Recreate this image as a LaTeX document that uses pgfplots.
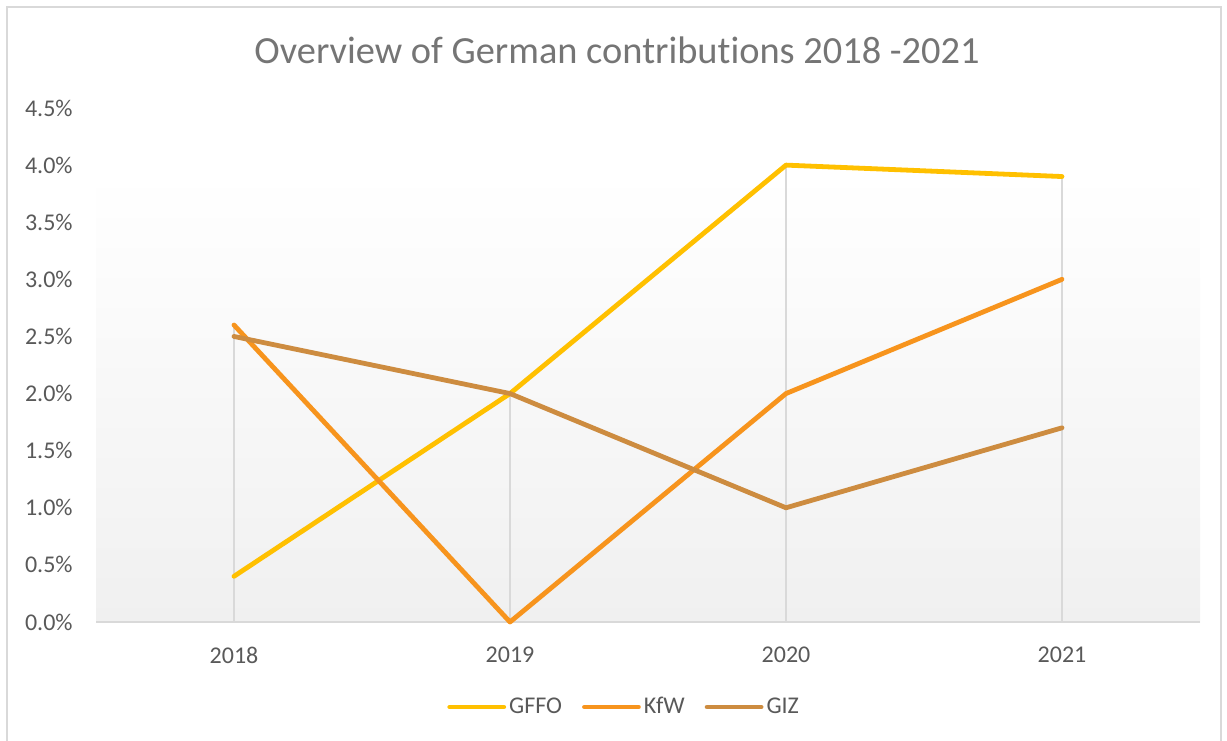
\documentclass[border=0pt]{standalone}
\usepackage{pgfplots}
\pgfplotsset{compat=1.18}
\usepackage{fontspec}
\setmainfont{Carlito}[Ligatures=NoCommon]
\definecolor{cGFFO}{HTML}{FFC000}
\definecolor{cKfW}{HTML}{F7941D}
\definecolor{cGIZ}{HTML}{CD8C40}
\definecolor{borderG}{HTML}{D9D9D9}
\definecolor{titleG}{HTML}{757575}
\definecolor{tickG}{HTML}{595959}
\definecolor{bgG}{HTML}{F0F0F0}
\begin{document}
\begin{tikzpicture}
\useasboundingbox (0,0) rectangle (613.5pt,370pt);
\draw[color=borderG, line width=1pt] (3.5pt,-10pt) rectangle (610.5pt,366.5pt);
\node[text=titleG, font=\fontsize{19.2}{23}\selectfont, anchor=base, inner sep=0pt] at (308.5pt,338pt) {Overview of German contributions 2018 -2021};
\begin{axis}[
  at={(48pt,59pt)}, anchor=south west,
  width=552pt, height=257pt, scale only axis,
  xmin=-0.5, xmax=3.5, ymin=0, ymax=4.5,
  axis line style={draw=none},
  tick style={draw=none},
  xtick={0,1,2,3},
  xticklabels={2018,2019,2020,2021},
  ytick={0,0.5,...,4.5},
  yticklabel={\pgfmathprintnumber[fixed,fixed zerofill,precision=1]{\tick}\%},
  /pgf/number format/assume math mode=true,
  ticklabel style={font=\fontsize{12}{14}\selectfont, text=tickG, inner sep=0pt},
  yticklabel shift=11.5pt,
  xticklabel shift=12.5pt,
  legend columns=3,
  legend style={draw=none, fill=none, at={(0.4775,-0.1654)}, anchor=center,
    font=\fontsize{12}{14}\selectfont, text=tickG,
    /tikz/every odd column/.append style={column sep=1.5pt},
    /tikz/every even column/.append style={column sep=10pt},
    nodes={inner sep=0pt}},
  legend image code/.code={\draw[#1, line cap=round] (0pt,0pt) -- (27pt,0pt);},
  clip=false,
]
\path[top color=white, bottom color=bgG] (axis cs:-0.5,3.93) rectangle (axis cs:3.5,0);
\draw[borderG, line width=1pt] (axis cs:-0.5,0) -- (axis cs:3.5,0);
\addplot[ycomb, borderG, line width=1pt, forget plot] coordinates {(0,2.6) (1,2.0) (2,4.0) (3,3.9)};
\addplot[cGFFO, line width=2.4pt, line cap=round, line join=round] coordinates {(0,0.4) (1,2.0) (2,4.0) (3,3.9)};
\addlegendentry{GFFO}
\addplot[cKfW, line width=2.4pt, line cap=round, line join=round] coordinates {(0,2.6) (1,0.0) (2,2.0) (3,3.0)};
\addlegendentry{KfW}
\addplot[cGIZ, line width=2.4pt, line cap=round, line join=round] coordinates {(0,2.5) (1,2.0) (2,1.0) (3,1.7)};
\addlegendentry{GIZ}
\end{axis}
\end{tikzpicture}
\end{document}
